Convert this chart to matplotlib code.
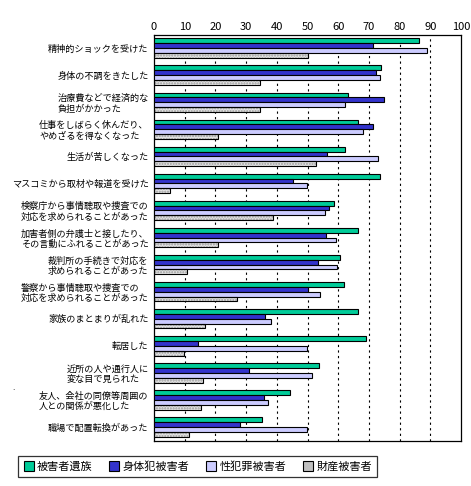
import numpy as np
import matplotlib
matplotlib.use("Agg")
import matplotlib.pyplot as plt

plt.rcParams['font.family'] = ['Noto Sans CJK JP', 'DejaVu Sans']

categories = [
    "精神的ショックを受けた",
    "身体の不調をきたした",
    "治療費などで経済的な\n負担がかかった",
    "仕事をしばらく休んだり、\nやめざるを得なくなった",
    "生活が苦しくなった",
    "マスコミから取材や報道を受けた",
    "検察庁から事情聴取や捜査での\n対応を求められることがあった",
    "加害者側の弁護士と接したり、\nその言動にふれることがあった",
    "裁判所の手続きで対応を\n求められることがあった",
    "警察から事情聴取や捜査での\n対応を求められることがあった",
    "家族のまとまりが乱れた",
    "転居した",
    "近所の人や通行人に\n変な目で見られた",
    "友人、会社の同僚等周囲の\n人との関係が悪化した",
    "職場で配置転換があった",
]

series_names = ["被害者遺族", "身体犯被害者", "性犯罪被害者", "財産被害者"]

izoku = [86.4, 74.0, 63.3, 66.5, 62.3, 73.7, 58.7, 66.5, 60.7, 62.0, 66.5, 69.1, 53.8, 44.3, 35.2]
shintai = [71.4, 72.4, 75.0, 71.4, 56.4, 45.3, 57.1, 56.1, 53.5, 50.2, 36.2, 14.3, 31.0, 35.9, 28.0]
seihanzai = [89.0, 73.7, 62.3, 68.2, 73.0, 49.8, 55.8, 59.3, 59.7, 54.1, 38.2, 49.8, 51.5, 37.2, 49.8]
zaisan = [50.2, 34.6, 34.6, 20.9, 52.8, 5.2, 38.8, 20.9, 10.8, 27.1, 16.6, 9.8, 16.0, 15.3, 11.4]

colors = ["#00CC99", "#3333CC", "#CCCCFF", "#C0C0C0"]

fig = plt.figure(figsize=(4.71, 4.86), dpi=100)
ax = fig.add_axes([0.327, 0.0926, 0.652, 0.835])

n = len(categories)
y = np.arange(n)
h = 0.18
all_series = [izoku, shintai, seihanzai, zaisan]

for k, vals in enumerate(all_series):
    pos = y + 0.21 + k * h
    if k == 3:
        # stippled gray bars: hatch pass then outline pass
        ax.barh(pos, vals, height=h, color="#E4E4E4", edgecolor="#9A9A9A",
                hatch="......", linewidth=0, zorder=2)
        ax.barh(pos, vals, height=h, facecolor="none", edgecolor="black",
                linewidth=0.8, zorder=3)
    else:
        ax.barh(pos, vals, height=h, color=colors[k], edgecolor="black",
                linewidth=0.8, zorder=3)

ax.set_xlim(0, 100)
ax.set_ylim(n, 0)
ax.set_xticks(range(0, 101, 10))
ax.xaxis.tick_top()
ax.tick_params(axis="x", length=0, pad=2, labelsize=8)
ax.set_yticks(y + 0.48)
ax.set_yticklabels(categories, fontsize=6.6, multialignment="left", linespacing=1.15)
ax.tick_params(axis="y", length=0, pad=4)

for xv in range(10, 100, 10):
    ax.axvline(xv, color="black", linestyle=(0, (2, 3)), linewidth=0.8, zorder=1)

for s in ax.spines.values():
    s.set_linewidth(0.9)

fig.text(0.027, 0.197, ".", fontsize=6)

handles = [plt.Rectangle((0, 0), 1, 1, facecolor=colors[k], edgecolor="black",
                         linewidth=0.8) for k in range(4)]
leg = fig.legend(handles, series_names, loc="center", bbox_to_anchor=(0.42, 0.04),
                 ncol=4, fontsize=8, frameon=True, fancybox=False,
                 handlelength=0.9, handleheight=0.9, handletextpad=0.3,
                 columnspacing=1.5, borderpad=0.5)
leg.get_frame().set_edgecolor("black")
leg.get_frame().set_linewidth(0.9)

fig.savefig("out.png", dpi=100)
